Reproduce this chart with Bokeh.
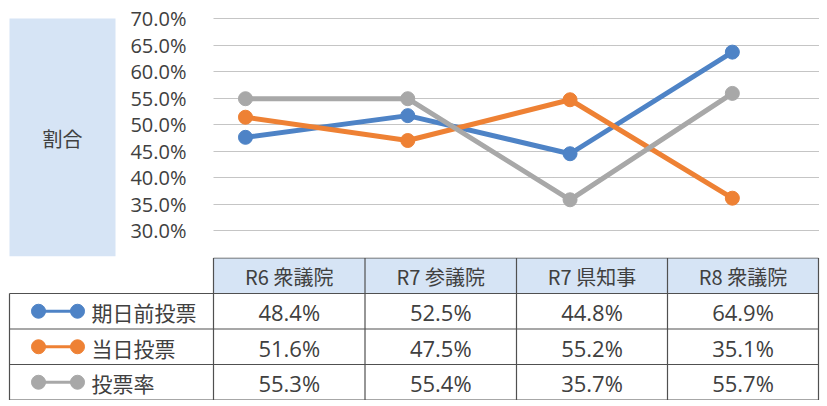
from bokeh.plotting import figure
from bokeh.layouts import row, column
from bokeh.models import PrintfTickFormatter, FixedTicker, Range1d, ColumnDataSource
from bokeh.core.properties import value
from bokeh.embed import file_html
from bokeh.resources import INLINE

# ---------------- data ----------------
categories = ["R6 衆議院", "R7 参議院", "R7 県知事", "R8 衆議院"]
series_names = ["期日前投票", "当日投票", "投票率"]
series_colors = ["#4E83C6", "#EE8134", "#A8A8A8"]
# plotted positions
early_vote = [47.6, 51.7, 44.5, 63.7]
same_day_vote = [51.4, 47.0, 54.7, 36.1]
turnout = [54.9, 54.9, 35.8, 55.9]
# table values as printed
early_vote_labels = ["48.4%", "52.5%", "44.8%", "64.9%"]
same_day_labels = ["51.6%", "47.5%", "55.2%", "35.1%"]
turnout_labels = ["55.3%", "55.4%", "35.7%", "55.7%"]
y_ticks = [30, 35, 40, 45, 50, 55, 60, 65, 70]
y_axis_title = "割合"

series_values = [early_vote, same_day_vote, turnout]
series_labels = [early_vote_labels, same_day_labels, turnout_labels]

TEXT = "#404040"
JP = value("Noto Sans CJK JP")
NUM = value("Open Sans")
BOX = "#D6E4F5"

TOP_H = 257
B_TOP, B_BOT = 14, 1   # shared borders so the row's frames align without distortion

# ---------------- left title box ----------------
bw = 118
pbox = figure(width=bw, height=TOP_H, x_range=Range1d(0, bw), y_range=Range1d(TOP_H - B_BOT, B_TOP),
              output_backend="svg", toolbar_location=None,
              min_border_left=0, min_border_right=0, min_border_top=B_TOP, min_border_bottom=B_BOT,
              x_axis_type=None, y_axis_type=None)
pbox.grid.visible = False
pbox.outline_line_color = None
pbox.quad(left=[9], right=[115], top=[18], bottom=[256], fill_color=BOX, line_color=None)
pbox.text(x=[62], y=[138], text=[y_axis_title], text_align="center", text_baseline="middle",
          text_font=JP, text_font_size="20px", text_color=TEXT)

# ---------------- chart ----------------
idx = list(range(len(categories)))
p = figure(width=709, height=TOP_H, x_range=Range1d(-0.197, 3.537), y_range=Range1d(25.085, 70.81),
           output_backend="svg", toolbar_location=None,
           min_border_left=95, min_border_right=8, min_border_top=B_TOP, min_border_bottom=B_BOT)
p.outline_line_color = None
p.xaxis.visible = False
p.xgrid.visible = False
p.yaxis.ticker = FixedTicker(ticks=y_ticks)
p.yaxis.formatter = PrintfTickFormatter(format="%.1f%%")
p.yaxis.axis_line_color = None
p.yaxis.major_tick_line_color = None
p.yaxis.minor_tick_line_color = None
p.yaxis.major_label_standoff = 21
p.yaxis.major_label_text_font = "Open Sans"
p.yaxis.major_label_text_font_size = "20px"
p.yaxis.major_label_text_color = TEXT
p.ygrid.ticker = FixedTicker(ticks=y_ticks)
p.ygrid.grid_line_color = "#8A8A8A"
p.ygrid.grid_line_dash = "1 1"
p.ygrid.grid_line_width = 1

for vals, col in zip(series_values, series_colors):
    src = ColumnDataSource(dict(x=idx, y=vals))
    p.line("x", "y", source=src, line_color=col, line_width=5, line_join="round")
    p.scatter("x", "y", source=src, size=14, fill_color=col, line_color=col)

# ---------------- data table ----------------
tw, th = 827, 143
t = figure(width=tw, height=th, x_range=Range1d(0, tw), y_range=Range1d(th, 0),
           output_backend="svg", toolbar_location=None, min_border=0,
           x_axis_type=None, y_axis_type=None)
t.grid.visible = False
t.outline_line_color = None

col_edges = [9, 213, 364.5, 516, 667, 818]
row_edges = [0.5, 36, 71.5, 107, 142.5]

t.quad(left=[col_edges[1]], right=[col_edges[-1]], top=[row_edges[0]], bottom=[row_edges[1]],
       fill_color=BOX, line_color=None)

hx0, hx1, hy0, hy1 = [], [], [], []
hx0.append(col_edges[1]); hx1.append(col_edges[-1]); hy0.append(row_edges[0]); hy1.append(row_edges[0])
for ry in row_edges[1:]:
    hx0.append(col_edges[0]); hx1.append(col_edges[-1]); hy0.append(ry); hy1.append(ry)
vx0, vx1, vy0, vy1 = [], [], [], []
vx0.append(col_edges[0]); vx1.append(col_edges[0]); vy0.append(row_edges[1]); vy1.append(row_edges[-1])
for cx in col_edges[1:]:
    vx0.append(cx); vx1.append(cx); vy0.append(row_edges[0]); vy1.append(row_edges[-1])
t.segment(x0=hx0 + vx0, y0=hy0 + vy0, x1=hx1 + vx1, y1=hy1 + vy1, line_color="#505050", line_width=1.2)

col_centers = [(col_edges[i] + col_edges[i + 1]) / 2 for i in range(1, 5)]
row_centers = [(row_edges[i] + row_edges[i + 1]) / 2 for i in range(4)]

t.text(x=col_centers, y=[row_centers[0] + 1] * 4, text=categories, text_align="center",
       text_baseline="middle", text_font=JP, text_font_size="20px", text_color=TEXT)

for r, (name, col, labels) in enumerate(zip(series_names, series_colors, series_labels)):
    yc = row_centers[r + 1]
    t.line(x=[38, 77], y=[yc, yc], line_color=col, line_width=3)
    t.scatter(x=[38, 77], y=[yc, yc], size=14, fill_color=col, line_color=col)
    t.text(x=[91], y=[yc + 1], text=[name], text_align="left", text_baseline="middle",
           text_font=JP, text_font_size="21px", text_color=TEXT)
    t.text(x=col_centers, y=[yc + 1] * 4, text=labels, text_align="center", text_baseline="middle",
           text_font=NUM, text_font_size="22px", text_color=TEXT)

layout = column(row(pbox, p), t)
open("out.html", "w").write(file_html(layout, INLINE))
